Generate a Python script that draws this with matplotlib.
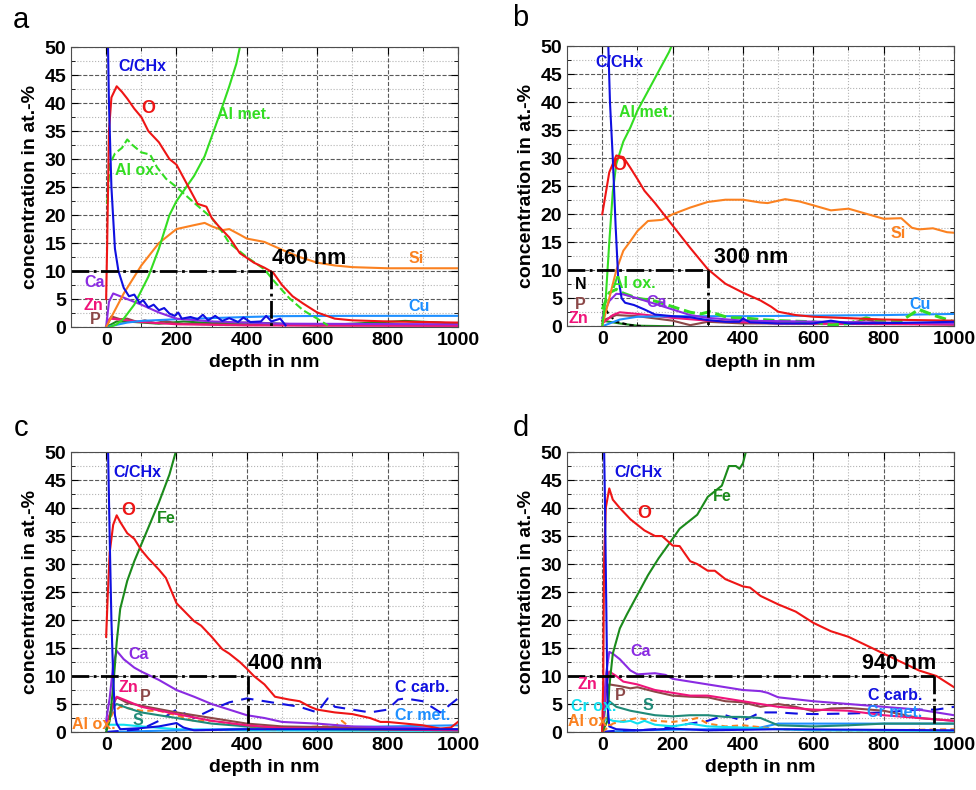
import matplotlib as mpl
mpl.use('Agg')
import matplotlib.pyplot as plt
from matplotlib.ticker import MultipleLocator

plt.rcParams['font.family'] = ['Liberation Sans', 'DejaVu Sans']

# ---- panel a: depth (nm), concentration (at.-%) ----
a_chx = [(4, 55), (8, 40), (15, 25), (25, 14), (35, 10), (50, 7), (65, 5.5), (80, 5.8), (95, 4.3),
         (105, 4.8), (120, 3.5), (135, 4.0), (150, 3.0), (165, 3.4), (180, 2.4), (195, 2.0), (205, 2.6),
         (215, 1.5), (240, 1.8), (260, 1.4), (275, 2.2), (290, 1.2), (310, 2.0), (330, 1.1), (350, 1.6),
         (375, 0.9), (390, 1.7), (410, 0.9), (440, 1.0), (455, 2.0), (470, 1.0), (495, 1.5), (510, 0.3)]
a_o = [(0, 5), (3, 15), (8, 35), (15, 41), (30, 43), (45, 42), (60, 40.8), (80, 39), (100, 37.5),
       (120, 35), (150, 33), (180, 30), (200, 29), (230, 25.5), (260, 22), (285, 21.5), (300, 19.5),
       (320, 18), (350, 16), (380, 13.2), (420, 11.5), (450, 10.6), (475, 9.7), (500, 7.5), (530, 5.5),
       (560, 4.2), (600, 2.6), (650, 1.5), (700, 1.2), (800, 1.0), (1000, 0.8)]
a_alox = [(3, 22), (10, 29), (25, 31), (45, 32), (60, 33.5), (75, 32.5), (100, 31.2), (125, 30.8),
          (145, 28.5), (170, 26.5), (200, 25), (250, 22.2), (300, 19.5), (330, 17), (350, 15),
          (400, 12.5), (450, 10.3), (480, 8.0), (520, 5.2), (560, 3.0), (600, 1.5), (630, 0.3)]
a_almet = [(10, 0), (30, 0.5), (50, 1.5), (80, 4), (100, 6.5), (120, 9), (150, 14), (180, 20),
           (200, 22.5), (250, 27), (280, 30.5), (300, 34), (320, 37.5), (350, 43), (370, 47), (382, 50.5)]
a_si = [(0, 0), (25, 3), (50, 6), (75, 8.5), (100, 11), (150, 15), (200, 17.5), (250, 18.2),
        (280, 18.6), (300, 18), (330, 17.3), (350, 17.5), (380, 16.5), (400, 15.8), (450, 15.2),
        (500, 13.8), (550, 12.5), (600, 11.5), (650, 11), (700, 10.7), (800, 10.5), (1000, 10.5)]
a_cu = [(0, 0), (30, 0.4), (60, 0.8), (100, 1.1), (200, 1.4), (300, 1.6), (400, 1.8), (500, 1.95),
        (700, 2.0), (1000, 2.0)]
a_ca = [(0, 0), (8, 4.5), (20, 6.0), (40, 5.5), (60, 5.0), (100, 4.0), (150, 2.6), (200, 1.5),
        (300, 1.0), (500, 0.6), (1000, 0.5)]
a_zn = [(0, 0), (10, 1.5), (30, 1.4), (100, 0.9), (200, 0.5), (400, 0.3), (1000, 0.2)]
a_p = [(0, 0), (15, 1.9), (40, 1.4), (60, 1.5), (90, 0.9), (110, 1.2), (140, 0.7), (170, 1.1),
       (200, 0.6), (300, 0.5), (600, 0.3), (1000, 0.3)]
a_fe = [(0, 0), (30, 1.0), (80, 0.9), (150, 0.6), (220, 1.0), (300, 0.7), (420, 0.8), (500, 0.6),
        (600, 0.3), (700, 0.6), (850, 1.1), (950, 0.8), (1000, 0.5)]

# ---- panel b ----
b_chx = [(15, 55), (22, 40), (30, 30), (38, 18), (45, 9), (55, 5), (65, 4.2), (90, 3.8), (120, 3.0),
         (150, 2.1), (200, 1.8), (250, 1.6), (300, 1.1), (350, 0.8), (390, 0.8), (400, 1.4), (420, 0.7),
         (500, 0.5), (600, 0.5), (650, 1.0), (700, 0.5), (850, 0.6), (1000, 0.8)]
b_o = [(0, 20), (20, 27.5), (40, 30.5), (60, 30.2), (80, 28.3), (100, 26.3), (120, 24.2), (150, 22),
       (200, 18), (250, 14), (300, 10.2), (350, 7.6), (400, 6), (450, 4.6), (480, 3.5), (500, 2.6),
       (550, 2.0), (600, 1.7), (800, 1.2), (1000, 1.0)]
b_almet = [(0, 0), (10, 5), (20, 15), (30, 24), (40, 29), (60, 33), (80, 35.5), (100, 38.5),
           (130, 42), (160, 45.5), (190, 49), (200, 50.5)]
b_si = [(0, 0), (20, 5), (40, 10), (60, 13.5), (80, 15.2), (100, 17), (130, 18.8), (170, 19),
        (200, 20), (250, 21.2), (300, 22.2), (350, 22.6), (400, 22.6), (450, 22.1), (470, 22.0),
        (520, 22.7), (560, 22.3), (600, 21.6), (650, 20.7), (700, 21.0), (750, 20.1), (800, 19.2),
        (850, 19.3), (880, 17.6), (900, 17.3), (940, 17.5), (980, 16.8), (1000, 16.7)]
b_alox = [(0, 3), (20, 6), (40, 6.6), (60, 5.9), (100, 5.0), (150, 4.5), (200, 3.5), (250, 2.5),
          (280, 2.2), (305, 2.6), (330, 2.1), (360, 1.5), (400, 1.5), (450, 1.2), (500, 1.0),
          (600, 0.8), (650, 0.2), (700, 0.5), (750, 1.5), (800, 0.8), (850, 1.0), (900, 3.0),
          (950, 1.8), (1000, 0.8)]
b_ca = [(0, 1.5), (20, 4.5), (40, 5.8), (60, 5.7), (100, 5.0), (150, 4.0), (200, 3.0), (250, 2.0),
        (300, 1.5), (400, 1.0), (1000, 0.5)]
b_cu = [(0, 0), (50, 1.2), (100, 1.7), (200, 1.8), (400, 1.8), (600, 1.9), (800, 2.0), (1000, 2.2)]
b_zn = [(0, 0.5), (30, 2.0), (50, 2.5), (100, 2.2), (200, 1.5), (300, 1.0), (500, 0.5), (1000, 0.3)]
b_p = [(0, 1.0), (40, 2.0), (100, 1.8), (200, 1.0), (250, 0.2), (300, 0.8), (400, 0.5), (700, 0.5),
       (750, 1.2), (800, 0.5), (1000, 0.3)]
b_n = [(0, 4), (20, 2), (40, 0.8), (80, 0.2), (120, 0)]
b_fe = [(0, 1.0), (50, 0.5), (100, 0.1), (200, 0)]

# ---- panel c ----
c_chx = [(5, 52), (10, 35), (15, 20), (20, 10), (25, 3), (30, 1.5), (40, 0.5), (100, 0.7),
         (150, 1.0), (200, 1.6), (220, 0.8), (250, 0.3), (400, 0.5), (1000, 0.5)]
c_o = [(0, 17), (5, 25), (10, 32), (20, 37), (30, 38.7), (40, 37.5), (60, 35.5), (80, 34.5),
       (100, 32.5), (120, 31), (150, 29), (170, 27.5), (200, 23), (250, 19.8), (270, 19), (300, 17),
       (330, 14.8), (350, 14), (380, 12.5), (400, 11.3), (420, 10), (450, 8.5), (480, 6.3),
       (520, 5.8), (550, 5.5), (580, 4.5), (600, 4), (650, 3.5), (700, 3.2), (750, 2.5), (780, 1.8),
       (800, 1.8), (850, 1.5), (900, 1.2), (950, 0.6), (980, 0.8), (1000, 1.8)]
c_fe = [(0, 0), (10, 2), (20, 8), (30, 16), (40, 22), (60, 27), (80, 30.5), (100, 33.5),
        (120, 36.5), (150, 41), (180, 46), (200, 50.5)]
c_ca = [(0, 2), (10, 6), (20, 12), (30, 14.5), (50, 13), (80, 11.5), (100, 10.8), (150, 9.3),
        (200, 7.5), (250, 6.3), (300, 5.0), (350, 4.0), (400, 3.0), (450, 2.5), (500, 1.8),
        (600, 1.5), (700, 1.0), (1000, 0.5)]
c_zn = [(0, 1), (20, 5), (30, 6.3), (50, 5.8), (100, 4.5), (200, 3.2), (300, 2.0), (400, 1.2),
        (500, 0.7), (1000, 0.3)]
c_p = [(0, 1), (20, 5), (30, 6.2), (60, 5.2), (100, 4.7), (200, 3.5), (300, 2.5), (400, 1.5),
       (500, 1.0), (1000, 0.5)]
c_s = [(0, 0.5), (20, 4.5), (30, 5.0), (60, 4.3), (100, 3.5), (200, 2.5), (300, 1.5), (400, 1.0),
       (600, 0.5), (1000, 0.3)]
c_alox = [(0, 1), (20, 3.5), (40, 4.5), (100, 3.8), (150, 3.8), (200, 3.0), (250, 2.0), (300, 2.0),
          (350, 1.5), (400, 1.0), (450, 0.5), (500, 0.5), (600, 1.0), (650, 1.0), (670, 2.0),
          (700, 0.5), (1000, 0.3)]
c_ccarb = [(0, 0), (100, 0.5), (150, 2), (200, 4), (250, 2.5), (300, 4), (350, 5.3), (400, 6),
           (450, 5.5), (500, 5), (550, 4.5), (600, 3.5), (630, 6), (650, 4.5), (700, 4), (750, 3.5),
           (800, 4), (830, 5.8), (850, 6), (900, 5.5), (950, 3.5), (1000, 6)]
c_crmet = [(0, 0), (200, 0.3), (400, 0.6), (600, 0.8), (800, 1.0), (1000, 1.2)]
c_crox = [(0, 1.3), (50, 1.3), (100, 1.0), (200, 0.5), (400, 0.3), (1000, 0.2)]

# ---- panel d ----
d_chx = [(5, 52), (8, 40), (10, 30), (12, 20), (15, 5), (20, 1), (40, 0.5), (100, 0.3), (200, 0.6),
         (300, 0.3), (500, 0.5), (1000, 0.3)]
d_o = [(0, 0), (3, 10), (5, 30), (10, 40), (20, 43.5), (30, 41.5), (50, 40), (80, 38), (100, 37),
       (120, 36), (150, 35), (170, 35), (200, 33.3), (220, 33.2), (250, 30.5), (270, 30), (300, 28.8),
       (320, 28.8), (350, 27.3), (400, 26), (420, 25.8), (450, 24.3), (500, 22.8), (550, 21.5),
       (600, 19.5), (650, 18), (700, 17), (750, 15.5), (800, 14), (850, 12.5), (900, 11), (950, 10),
       (1000, 8)]
d_fe = [(0, 0), (15, 2), (20, 8), (30, 14), (50, 18.5), (70, 21), (100, 24.5), (130, 28),
        (160, 31), (200, 34.5), (220, 36.3), (250, 37.8), (270, 38.8), (300, 42), (340, 44),
        (360, 47.5), (380, 47.5), (390, 47), (400, 48), (410, 50.5)]
d_ca = [(0, 0), (10, 10), (20, 14.3), (30, 14), (50, 13), (80, 11), (100, 10.3), (150, 10.5),
        (180, 10.2), (200, 9.5), (250, 9), (300, 8.5), (350, 8), (400, 7.5), (450, 7.3), (470, 7),
        (500, 6.2), (600, 5.5), (700, 5), (800, 4.5), (900, 4), (1000, 3)]
d_zn = [(0, 0), (10, 8), (20, 10.8), (40, 10), (60, 9), (100, 8.5), (150, 7.5), (200, 7),
        (250, 6.5), (300, 6.5), (350, 6), (400, 5.5), (500, 4.5), (600, 4), (700, 3.8), (800, 3),
        (900, 2.5), (1000, 2)]
d_p = [(0, 0), (10, 7), (20, 8.5), (50, 8.2), (80, 7.8), (100, 8), (150, 7.2), (200, 6.5),
       (250, 6.3), (300, 6.2), (350, 5.5), (400, 5.3), (450, 4.5), (500, 5), (550, 4.5), (600, 3.7),
       (650, 4.2), (700, 4.3), (800, 3.8), (900, 2.5), (1000, 2)]
d_s = [(0, 0), (10, 5), (20, 5.5), (40, 4.5), (80, 3.8), (150, 3), (200, 2.8), (250, 3), (300, 3),
       (350, 2.7), (400, 2.7), (450, 2.5), (500, 1.2), (600, 1), (700, 1.2), (800, 1.5), (1000, 1.5)]
d_crox = [(0, 1), (10, 2.5), (30, 2), (60, 1.8), (80, 2), (100, 1.5), (120, 2), (150, 1.3),
          (200, 1), (250, 1.5), (280, 1.2), (300, 1), (400, 0.8), (500, 0.5), (600, 0.3), (1000, 0.2)]
d_alox = [(0, 0), (30, 1.5), (60, 2), (100, 2.5), (150, 2), (200, 1.8), (250, 2.2), (270, 2.5),
          (300, 1.5), (350, 1), (400, 1.2), (500, 0.5), (600, 0.3), (800, 0.3), (1000, 0.5)]
d_ccarb = [(0, 0), (50, 0.3), (100, 0.3), (150, 0.5), (200, 1), (300, 2), (350, 3), (400, 2),
           (450, 3.5), (500, 3.5), (550, 3.3), (600, 3.2), (700, 3.3), (800, 3.5), (900, 4),
           (950, 4), (1000, 4.5)]
d_crmet = [(0, 0), (100, 0.3), (300, 0.5), (450, 0.8), (500, 1.5), (600, 1.5), (800, 1.5), (1000, 1.5)]

# depth where the 10 at.-% level is crossed
cut_a, cut_b, cut_c, cut_d = 468, 300, 403, 943

BLUE = '#1010e0'
RED = '#ee1515'
LGREEN = '#33dd22'
DGREEN = '#1b8a1b'
ORANGE = '#fb8120'
LBLUE = '#1e8fff'
PURPLE = '#8a2be2'
PINK = '#f0147a'
BROWN = '#8c4848'
TEAL = '#1f8a78'
CYAN = '#10e0f0'


def draw(ax, pts, color, ls='-', lw=1.5):
    ax.plot([p[0] for p in pts], [p[1] for p in pts], color=color, ls=ls, lw=lw)


def label(ax, x, y, s, color, ha='left', size=11.5):
    ax.text(x, y, s, color=color, ha=ha, va='center', fontsize=size, fontweight='bold')


def frame(ax, cut, cut_text, tx, letter, lx, ly):
    ax.set_xlim(-100, 1000)
    ax.set_ylim(0, 50)
    ax.xaxis.set_major_locator(MultipleLocator(200))
    ax.xaxis.set_minor_locator(MultipleLocator(100))
    ax.yaxis.set_major_locator(MultipleLocator(5))
    ax.yaxis.set_minor_locator(MultipleLocator(2.5))
    ax.grid(which='major', color='0.35', ls='--', lw=0.8)
    ax.grid(which='minor', color='0.7', ls=':', lw=0.8)
    ax.set_axisbelow(True)
    ax.tick_params(which='both', direction='in', top=True, right=True)
    ax.tick_params(which='major', length=5, labelsize=14)
    ax.tick_params(which='minor', length=3)
    for t in ax.get_xticklabels() + ax.get_yticklabels():
        t.set_fontweight('bold')
    for s in ax.spines.values():
        s.set_color('0.3')
    ax.set_xlabel('depth in nm', fontsize=14, fontweight='bold')
    ax.set_ylabel('concentration in at.-%', fontsize=14, fontweight='bold')
    ax.plot([-100, cut], [10, 10], color='black', ls='-.', lw=2)
    ax.plot([cut, cut], [10, 0], color='black', ls='-.', lw=2)
    ax.text(tx, 12.3, cut_text, fontsize=15.5, fontweight='bold', ha='left', va='center')
    ax.text(lx, ly, letter, transform=ax.transAxes, fontsize=21, ha='center', va='center')


fig = plt.figure(figsize=(9.76, 7.9), dpi=100)
axa = fig.add_axes([0.0727, 0.586, 0.3965, 0.3544])
axb = fig.add_axes([0.581, 0.587, 0.3965, 0.3544])
axc = fig.add_axes([0.0727, 0.0734, 0.3965, 0.3544])
axd = fig.add_axes([0.581, 0.0734, 0.3965, 0.3544])

# panel a
ax = axa
draw(ax, a_fe, DGREEN)
draw(ax, a_p, BROWN)
draw(ax, a_zn, PINK)
draw(ax, a_cu, LBLUE)
draw(ax, a_ca, PURPLE)
draw(ax, a_si, ORANGE)
draw(ax, a_almet, LGREEN)
draw(ax, a_alox, LGREEN, ls='--')
draw(ax, a_o, RED)
draw(ax, a_chx, BLUE)
label(ax, 35, 46.5, 'C/CHx', BLUE)
label(ax, 119, 39.1, 'O', RED, ha='center', size=13)
label(ax, 315, 38, 'Al met.', LGREEN)
label(ax, 26, 27.9, 'Al ox.', LGREEN)
label(ax, 880, 12.3, 'Si', ORANGE, ha='center')
label(ax, 890, 3.7, 'Cu', LBLUE, ha='center')
label(ax, -34, 7.9, 'Ca', PURPLE, ha='center')
label(ax, -36, 3.9, 'Zn', PINK, ha='center')
label(ax, -31, 1.4, 'P', BROWN, ha='center')
frame(ax, cut_a, '460 nm', 472, 'a', -0.13, 1.095)

# panel b
ax = axb
draw(ax, b_fe, DGREEN)
draw(ax, b_n, 'black', ls=(0, (2, 1.5)))
draw(ax, b_p, BROWN)
draw(ax, b_zn, PINK)
draw(ax, b_cu, LBLUE)
draw(ax, b_alox, LGREEN, ls='--', lw=2.2)
draw(ax, b_ca, PURPLE)
draw(ax, b_si, ORANGE)
draw(ax, b_almet, LGREEN)
draw(ax, b_o, RED)
draw(ax, b_chx, BLUE)
label(ax, -20, 47.1, 'C/CHx', BLUE)
label(ax, 48, 38.2, 'Al met.', LGREEN)
label(ax, 48, 28.8, 'O', RED, ha='center', size=13)
label(ax, 841, 16.6, 'Si', ORANGE, ha='center')
label(ax, -62, 7.5, 'N', 'black', ha='center')
label(ax, 28, 7.7, 'Al ox.', LGREEN)
label(ax, -62, 3.8, 'P', BROWN, ha='center')
label(ax, -68, 1.3, 'Zn', PINK, ha='center')
label(ax, 156, 4.3, 'Ca', PURPLE, ha='center')
label(ax, 903, 3.8, 'Cu', LBLUE, ha='center')
frame(ax, cut_b, '300 nm', 318, 'b', -0.12, 1.1)

# panel c
ax = axc
draw(ax, c_crox, CYAN)
draw(ax, c_crmet, LBLUE)
draw(ax, c_ccarb, BLUE, ls=(0, (6, 4)))
draw(ax, c_alox, ORANGE, ls=(0, (3, 2)))
draw(ax, c_s, TEAL)
draw(ax, c_p, BROWN)
draw(ax, c_zn, PINK)
draw(ax, c_ca, PURPLE)
draw(ax, c_fe, DGREEN)
draw(ax, c_o, RED)
draw(ax, c_chx, BLUE)
label(ax, 20, 46.4, 'C/CHx', BLUE)
label(ax, 62, 39.5, 'O', RED, ha='center', size=13)
label(ax, 170, 38.2, 'Fe', DGREEN, ha='center')
label(ax, 91, 13.8, 'Ca', PURPLE, ha='center')
label(ax, 821, 7.9, 'C carb.', BLUE)
label(ax, 62, 7.9, 'Zn', PINK, ha='center')
label(ax, 111, 6.3, 'P', BROWN, ha='center')
label(ax, 91, 2.0, 'S', TEAL, ha='center')
label(ax, 821, 2.9, 'Cr met.', LBLUE)
label(ax, -97, 1.4, 'Al ox.', ORANGE)
frame(ax, cut_c, '400 nm', 403, 'c', -0.13, 1.085)

# panel d
ax = axd
draw(ax, d_crmet, LBLUE)
draw(ax, d_ccarb, BLUE, ls=(0, (6, 4)))
draw(ax, d_alox, ORANGE, ls=(0, (3, 2)))
draw(ax, d_crox, CYAN)
draw(ax, d_s, TEAL)
draw(ax, d_p, BROWN)
draw(ax, d_zn, PINK)
draw(ax, d_ca, PURPLE)
draw(ax, d_fe, DGREEN)
draw(ax, d_o, RED)
draw(ax, d_chx, BLUE)
label(ax, 34, 46.4, 'C/CHx', BLUE)
label(ax, 341, 42, 'Fe', DGREEN, ha='center')
label(ax, 119, 39, 'O', RED, ha='center', size=13)
label(ax, 108, 14.3, 'Ca', PURPLE, ha='center')
label(ax, -43, 8.4, 'Zn', PINK, ha='center')
label(ax, 51, 6.6, 'P', BROWN, ha='center')
label(ax, 131, 4.8, 'S', TEAL, ha='center')
label(ax, 756, 6.6, 'C carb.', BLUE)
label(ax, -90, 4.5, 'Cr ox.', CYAN)
label(ax, 753, 3.4, 'Cr met.', LBLUE)
label(ax, -97, 1.8, 'Al ox.', ORANGE)
frame(ax, cut_d, '940 nm', 739, 'd', -0.12, 1.085)

plt.savefig('out.png', dpi=100)
plt.close(fig)
